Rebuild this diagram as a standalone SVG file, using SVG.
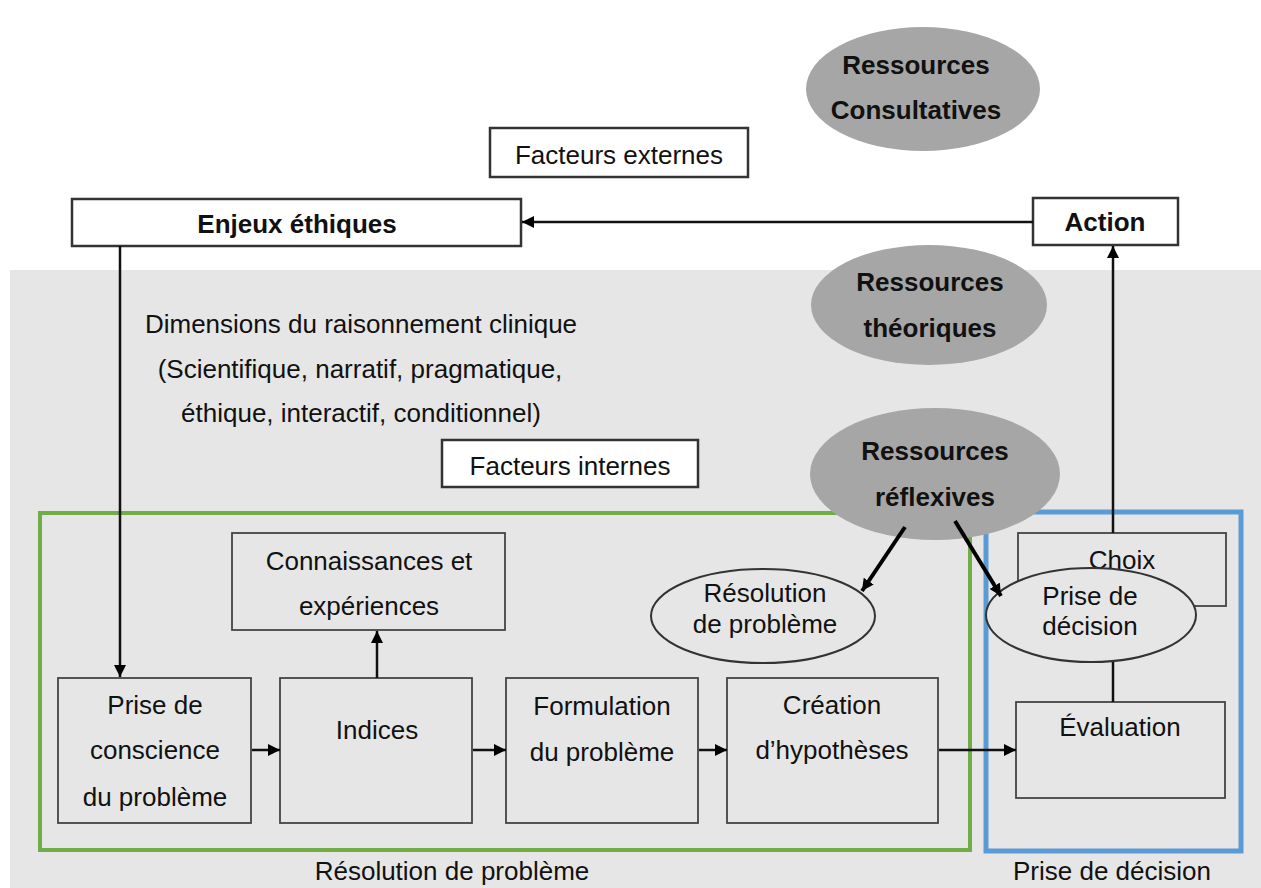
<svg xmlns="http://www.w3.org/2000/svg" width="1261" height="888" viewBox="0 0 1261 888">
<defs>
<marker id="ah" viewBox="0 0 12 12" refX="12" refY="6" markerWidth="12" markerHeight="12" markerUnits="userSpaceOnUse" orient="auto">
<path d="M0,0 L12,6 L0,12 z" fill="#000"/>
</marker>
<style>
text{font-family:"Liberation Sans",Arial,sans-serif;font-size:26px;fill:#111;text-anchor:middle}
.b{font-weight:bold}
.wbox{fill:#fff;stroke:#333;stroke-width:2.5}
.gbox{fill:#e6e6e6;stroke:#444;stroke-width:1.8}
.res{fill:#a6a6a6;stroke:none}
.oval{fill:#e6e6e6;stroke:#333;stroke-width:2}
.ln{stroke:#111;stroke-width:2.5;fill:none}
.tk{stroke:#000;stroke-width:4;fill:none}
</style>
</defs>
<rect x="0" y="0" width="1261" height="888" fill="#fff"/>
<rect x="10" y="270" width="1251" height="618" fill="#e6e6e6"/>

<g id="ressources-consultatives"><ellipse class="res" cx="923" cy="89" rx="117" ry="62"/><text class="b" x="916" y="74">Ressources</text><text class="b" x="916" y="119">Consultatives</text></g>
<g id="facteurs-externes"><rect class="wbox" x="490" y="128" width="258" height="49" stroke-width="2"/><text x="619" y="164">Facteurs externes</text></g>
<g id="enjeux"><rect class="wbox" x="72" y="199" width="449" height="47"/><text class="b" x="297" y="233">Enjeux éthiques</text></g>
<g id="action"><rect class="wbox" x="1033" y="198" width="145" height="47"/><text class="b" x="1105" y="231">Action</text></g>
<g id="ressources-theoriques"><ellipse class="res" cx="929" cy="305" rx="118" ry="60"/><text class="b" x="930" y="291">Ressources</text><text class="b" x="930" y="337">théoriques</text></g>
<g id="dimensions"><text x="361" y="333">Dimensions du raisonnement clinique</text><text x="360" y="378">(Scientifique, narratif, pragmatique,</text><text x="361" y="422">éthique, interactif, conditionnel)</text></g>
<g id="facteurs-internes"><rect class="wbox" x="442" y="440" width="256" height="47" stroke-width="2"/><text x="570" y="475">Facteurs internes</text></g>

<rect x="40" y="513" width="930" height="337" fill="none" stroke="#70ad47" stroke-width="4"/>
<rect x="986" y="512" width="255" height="339" fill="none" stroke="#5b9bd5" stroke-width="5"/>

<g id="ressources-reflexives"><ellipse class="res" cx="935" cy="474" rx="125" ry="66"/><text class="b" x="935" y="460">Ressources</text><text class="b" x="935" y="506">réflexives</text></g>

<g id="connaissances"><rect class="gbox" x="232" y="533" width="273" height="97"/><text x="369" y="570">Connaissances et</text><text x="369" y="615">expériences</text></g>
<g id="resolution-oval"><ellipse class="oval" cx="763" cy="616" rx="112" ry="47"/><text x="765" y="602">Résolution</text><text x="765" y="633">de problème</text></g>
<g id="choix"><rect class="gbox" x="1018" y="533" width="208" height="73"/><text x="1122" y="569">Choix</text></g>
<g id="prise-decision-oval"><ellipse class="oval" cx="1091" cy="615" rx="105" ry="47"/><text x="1090" y="605">Prise de</text><text x="1090" y="635">décision</text></g>
<g id="evaluation"><rect class="gbox" x="1016" y="702" width="209" height="96"/><text x="1120" y="736">Évaluation</text></g>

<g id="prise-conscience"><rect class="gbox" x="58" y="678" width="193" height="145"/><text x="155" y="714">Prise de</text><text x="155" y="759">conscience</text><text x="155" y="806">du problème</text></g>
<g id="indices"><rect class="gbox" x="280" y="678" width="192" height="145"/><text x="377" y="739">Indices</text></g>
<g id="formulation"><rect class="gbox" x="506" y="678" width="192" height="145"/><text x="602" y="715">Formulation</text><text x="602" y="761">du problème</text></g>
<g id="creation"><rect class="gbox" x="727" y="678" width="211" height="145"/><text x="832" y="714">Création</text><text x="832" y="759">d’hypothèses</text></g>

<g id="labels"><text x="452" y="880">Résolution de problème</text><text x="1112" y="880">Prise de décision</text></g>

<g id="connectors">
<line class="ln" x1="1033" y1="222" x2="522" y2="222" marker-end="url(#ah)"/>
<line class="ln" x1="120" y1="246" x2="120" y2="677" marker-end="url(#ah)"/>
<line class="ln" x1="1113" y1="533" x2="1113" y2="246" marker-end="url(#ah)"/>
<line class="ln" x1="1113" y1="662" x2="1113" y2="702"/>
<line class="ln" x1="377" y1="678" x2="377" y2="631" marker-end="url(#ah)"/>
<line class="ln" x1="252" y1="750" x2="280" y2="750" marker-end="url(#ah)"/>
<line class="ln" x1="473" y1="750" x2="506" y2="750" marker-end="url(#ah)"/>
<line class="ln" x1="699" y1="750" x2="727" y2="750" marker-end="url(#ah)"/>
<line class="ln" x1="939" y1="750" x2="1016" y2="750" marker-end="url(#ah)"/>
<line class="tk" x1="905" y1="527" x2="862" y2="591" marker-end="url(#ah)"/>
<line class="tk" x1="955" y1="521" x2="1001" y2="596" marker-end="url(#ah)"/>
</g>
</svg>
